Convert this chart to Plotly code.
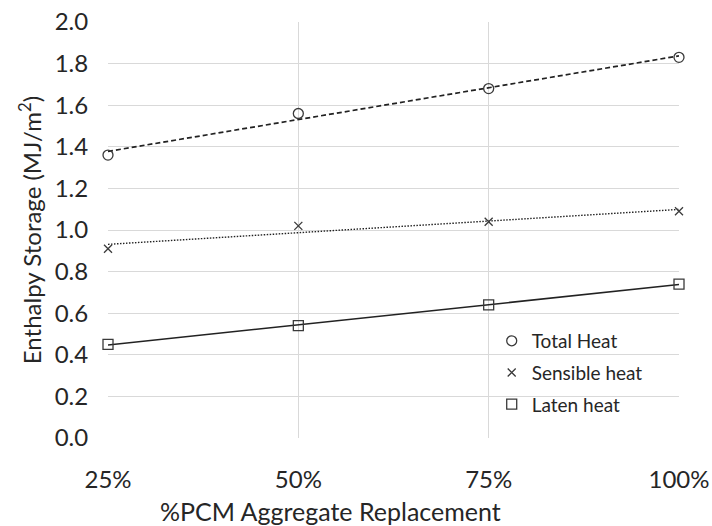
import numpy as np
import plotly.graph_objects as go

# PCM aggregate replacement levels (%)
replacement = [25, 50, 75, 100]
tick_labels = ["25%", "50%", "75%", "100%"]

# Enthalpy storage (MJ/m2)
total_heat = [1.36, 1.56, 1.68, 1.83]
sensible_heat = [0.91, 1.02, 1.04, 1.09]
latent_heat = [0.45, 0.54, 0.64, 0.74]

series = [
    ("Total Heat", total_heat, "circle-open", 10, "5px,3px", 1.7),
    ("Sensible heat", sensible_heat, "x-thin-open", 8, "1.5px,1.5px", 1.4),
    ("Laten heat", latent_heat, "square-open", 10, "solid", 1.5),
]

ink = "#3a3a3a"
fig = go.Figure()
x = np.array(replacement, dtype=float)
for name, vals, symbol, size, dash, lw in series:
    # least-squares linear trendline through each series
    slope, intercept = np.polyfit(x, np.array(vals), 1)
    fig.add_trace(go.Scatter(
        x=x, y=slope * x + intercept, mode="lines", cliponaxis=False,
        line=dict(color="#222222", width=lw, dash=dash),
        showlegend=False, hoverinfo="skip",
    ))
    fig.add_trace(go.Scatter(
        x=x, y=vals, mode="markers", name=name, legendgroup=name,
        cliponaxis=False,
        marker=dict(symbol=symbol, size=size, color=ink,
                    line=dict(width=1.3, color=ink)),
    ))

font = "Lato, 'Open Sans', sans-serif"
fig.update_layout(
    width=712, height=526,
    margin=dict(l=108, r=33, t=22, b=88),
    paper_bgcolor="white", plot_bgcolor="white",
    font=dict(family=font, color="#262626"),
    showlegend=True,
    legend=dict(
        x=0.672, y=0.279, xanchor="left", yanchor="top",
        bgcolor="rgba(0,0,0,0)", font=dict(size=19, color="#262626"),
        tracegroupgap=4, itemwidth=30,
    ),
    xaxis=dict(
        range=[25, 100], tickmode="array", tickvals=replacement,
        ticktext=tick_labels, showgrid=True, gridcolor="#d9d9d9",
        gridwidth=1, zeroline=False, showline=False, automargin=False,
        tickfont=dict(size=24), ticks="outside", ticklen=20,
        tickcolor="rgba(0,0,0,0)",
    ),
    yaxis=dict(
        range=[0, 2.0], dtick=0.2, tickformat=".1f",
        showgrid=True, gridcolor="#d9d9d9", gridwidth=1,
        zeroline=False, showline=False, automargin=False,
        tickfont=dict(size=24), ticks="outside", ticklen=14,
        tickcolor="rgba(0,0,0,0)",
        title=dict(text="Enthalpy Storage (MJ/m<sup>2</sup>)",
                   font=dict(size=24), standoff=6),
    ),
)
# x-axis title, set slightly left of the plot centre
fig.add_annotation(
    text="%PCM Aggregate Replacement", xref="paper", yref="paper",
    x=0.39, y=-0.176, xanchor="center", yanchor="middle",
    showarrow=False, font=dict(size=25, color="#262626"),
)
fig.write_html("out.html")
